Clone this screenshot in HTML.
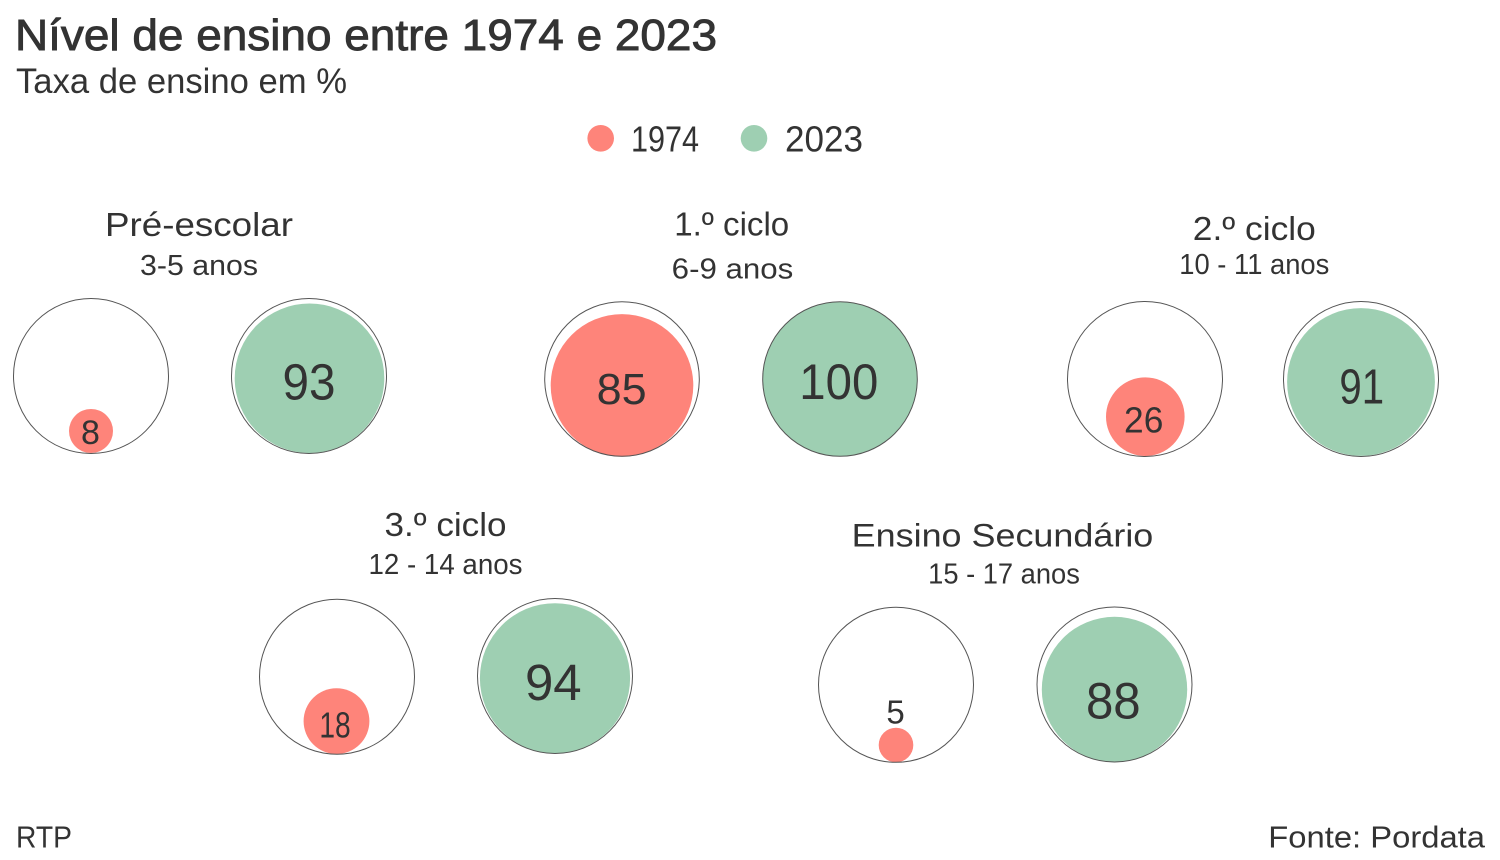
<!DOCTYPE html>
<html><head><meta charset="utf-8"><style>
html,body{margin:0;padding:0;background:#fff;}
svg{display:block;}
text{font-family:"Liberation Sans",sans-serif;fill:#333;}
</style></head><body>
<svg width="1500" height="860" viewBox="0 0 1500 860" xmlns="http://www.w3.org/2000/svg">
<rect width="1500" height="860" fill="#fff"/>
<!-- header -->
<text x="15" y="50" font-size="44" textLength="702" lengthAdjust="spacingAndGlyphs" stroke="#333" stroke-width="0.9">Nível de ensino entre 1974 e 2023</text>
<text x="16" y="93" font-size="35" textLength="331" lengthAdjust="spacingAndGlyphs">Taxa de ensino em %</text>
<!-- legend -->
<circle cx="600.7" cy="138.3" r="13.3" fill="#fe847a"/>
<text x="631" y="151.7" font-size="36" textLength="68" lengthAdjust="spacingAndGlyphs">1974</text>
<circle cx="754" cy="138.3" r="13.3" fill="#9ecfb2"/>
<text x="785" y="151.7" font-size="36" textLength="78" lengthAdjust="spacingAndGlyphs">2023</text>

<!-- Panel titles -->
<g text-anchor="middle">
<text x="199" y="236" font-size="33" textLength="188" lengthAdjust="spacingAndGlyphs">Pré-escolar</text>
<text x="199" y="275" font-size="29" textLength="118" lengthAdjust="spacingAndGlyphs">3-5 anos</text>
<text x="731.7" y="235.7" font-size="33" textLength="115" lengthAdjust="spacingAndGlyphs">1.º ciclo</text>
<text x="732.5" y="278.3" font-size="29" textLength="121.6" lengthAdjust="spacingAndGlyphs">6-9 anos</text>
<text x="1254.3" y="240" font-size="33" textLength="123" lengthAdjust="spacingAndGlyphs">2.º ciclo</text>
<text x="1254.3" y="274" font-size="29" textLength="150" lengthAdjust="spacingAndGlyphs">10 - 11 anos</text>
<text x="445.5" y="536" font-size="33" textLength="122" lengthAdjust="spacingAndGlyphs">3.º ciclo</text>
<text x="445.5" y="574" font-size="29" textLength="154" lengthAdjust="spacingAndGlyphs">12 - 14 anos</text>
<text x="1002.5" y="546.7" font-size="32" textLength="301.6" lengthAdjust="spacingAndGlyphs">Ensino Secundário</text>
<text x="1004" y="583.3" font-size="29" textLength="151.7" lengthAdjust="spacingAndGlyphs">15 - 17 anos</text>
</g>

<!-- Circles -->
<g stroke="none">
<circle cx="91" cy="376" r="77.5" fill="#fff"/>
<circle cx="91" cy="431" r="22" fill="#fe847a"/>
<circle cx="309.5" cy="378.3" r="74.8" fill="#9ecfb2"/>

<circle cx="622" cy="385.4" r="71.3" fill="#fe847a"/>
<circle cx="840" cy="379" r="77.3" fill="#9ecfb2"/>

<circle cx="1145.3" cy="416.7" r="39.3" fill="#fe847a"/>
<circle cx="1361" cy="382" r="73.9" fill="#9ecfb2"/>

<circle cx="336.5" cy="721.1" r="32.9" fill="#fe847a"/>
<circle cx="555" cy="678.3" r="75.1" fill="#9ecfb2"/>

<circle cx="896" cy="745" r="17.3" fill="#fe847a"/>
<circle cx="1114.5" cy="689.5" r="72.7" fill="#9ecfb2"/>
</g>
<g fill="none" stroke="#555" stroke-width="1">
<circle cx="91" cy="376" r="77.5"/>
<circle cx="309" cy="376" r="77.5"/>
<circle cx="622" cy="379" r="77.3"/>
<circle cx="840" cy="379" r="77.3"/>
<circle cx="1145" cy="379" r="77.5"/>
<circle cx="1361" cy="379" r="77.5"/>
<circle cx="337" cy="676.7" r="77.5"/>
<circle cx="555" cy="676" r="77.5"/>
<circle cx="896" cy="684.8" r="77.5"/>
<circle cx="1114.5" cy="684.5" r="77.5"/>
</g>

<!-- Value labels -->
<g text-anchor="middle">
<text x="90.5" y="444" font-size="34">8</text>
<text x="309" y="399.3" font-size="51" textLength="53" lengthAdjust="spacingAndGlyphs">93</text>
<text x="621.7" y="404" font-size="44" textLength="50" lengthAdjust="spacingAndGlyphs">85</text>
<text x="838.8" y="399" font-size="50" textLength="79" lengthAdjust="spacingAndGlyphs">100</text>
<text x="1143.7" y="432.7" font-size="36" textLength="39.3" lengthAdjust="spacingAndGlyphs">26</text>
<text x="1361.7" y="403.3" font-size="49" textLength="44.7" lengthAdjust="spacingAndGlyphs">91</text>
<text x="335" y="737.3" font-size="36" textLength="31.3" lengthAdjust="spacingAndGlyphs">18</text>
<text x="553.3" y="700" font-size="51" textLength="56.7" lengthAdjust="spacingAndGlyphs">94</text>
<text x="895.5" y="723.3" font-size="33">5</text>
<text x="1113.3" y="718.3" font-size="51" textLength="54.7" lengthAdjust="spacingAndGlyphs">88</text>
</g>

<!-- footer -->
<text x="16" y="847.7" font-size="31" textLength="56" lengthAdjust="spacingAndGlyphs">RTP</text>
<text x="1268.3" y="847.7" font-size="31" textLength="216.7" lengthAdjust="spacingAndGlyphs">Fonte: Pordata</text>
</svg>
</body></html>
